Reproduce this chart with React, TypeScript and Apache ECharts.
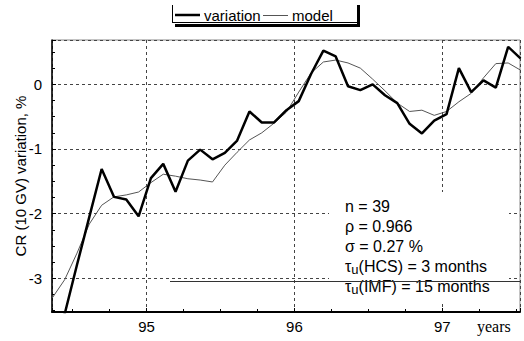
import React, { useEffect, useRef } from 'react';
import * as echarts from 'echarts';

// first monthly sample, as a decimal year (two-digit years on the axis)
const startYear = 94.3625;
const xTickLabels = [95, 96, 97];
const yTickLabels = [0, -1, -2, -3];
const seriesNames = ['variation', 'model'];

// monthly CR (10 GV) variation, %
const variation = [
  -3.9, -3.55, -2.79, -2.05, -1.31, -1.74, -1.78, -2.04, -1.45, -1.23,
  -1.66, -1.18, -1.01, -1.16, -1.06, -0.87, -0.42, -0.59, -0.59, -0.4,
  -0.26, 0.16, 0.52, 0.43, -0.03, -0.09, 0.0, -0.17, -0.29, -0.61,
  -0.76, -0.56, -0.46, 0.25, -0.12, 0.06, -0.05, 0.58, 0.4,
];

// model curve
const model = [
  -3.3, -3.02, -2.61, -2.16, -1.87, -1.74, -1.71, -1.665, -1.52, -1.39,
  -1.42, -1.46, -1.48, -1.51, -1.25, -1.05, -0.86, -0.75, -0.6, -0.43,
  -0.12, 0.175, 0.345, 0.375, 0.33, 0.25, 0.08, -0.1, -0.29, -0.42,
  -0.4, -0.48, -0.42, -0.27, -0.14, 0.1, 0.32, 0.33, 0.22,
];

const statN = 'n = 39';
const statRho = 'ρ = 0.966';
const statSigma = 'σ = 0.27 %';
const statHcs = '(HCS) = 3 months';
const statImf = '(IMF) = 15 months';

const FONT = "'Liberation Sans', Arial, sans-serif";
const VAR_COLOR = '#000';
const MODEL_COLOR = '#555';

export default function App() {
  const ref = useRef<HTMLDivElement>(null);

  useEffect(() => {
    if (!ref.current) return;
    const chart = echarts.init(ref.current, undefined, { renderer: 'svg' });
    const toPts = (arr: number[]) => arr.map((v, i) => [startYear + i / 12, v]);
    const isTick = (v: number, list: number[]) => list.some((t) => Math.abs(t - v) < 1e-9);

    const legendText = { font: `15px ${FONT}`, fill: '#000' };
    const statText = { font: `16px ${FONT}`, fill: '#000' };
    const rich = {
      a: { fontSize: 16, fontFamily: FONT, color: '#000', lineHeight: 20 },
      s: { fontSize: 13, fontFamily: FONT, color: '#000', lineHeight: 13, verticalAlign: 'bottom' },
    };

    chart.setOption({
      animation: false,
      backgroundColor: '#fff',
      grid: {
        left: 52, right: 4, top: 40, bottom: 29,
        outerBoundsMode: 'none', containLabel: false,
        show: true, borderColor: '#888', borderWidth: 1, backgroundColor: 'transparent',
      },
      xAxis: {
        type: 'value', min: 94.36, max: 97.526, splitNumber: 3,
        axisLine: { onZero: false, lineStyle: { color: '#000', width: 2 } },
        axisTick: { inside: true, length: 4, lineStyle: { color: '#000' } },
        minorTick: { show: true, splitNumber: 4, length: 3, lineStyle: { color: '#000' } },
        axisLabel: {
          formatter: (v: number) => (isTick(v, xTickLabels) ? String(Math.round(v)) : ''),
          color: '#000', fontSize: 15, fontFamily: FONT, margin: 7,
        },
        splitLine: { show: true, lineStyle: { color: '#444', type: [3, 3], width: 1 } },
      },
      yAxis: {
        type: 'value', min: -3.52, max: 0.685, splitNumber: 4,
        name: 'CR (10 GV) variation, %', nameLocation: 'middle', nameGap: 24,
        nameMoveOverlap: false,
        nameTextStyle: { fontSize: 15, color: '#000', fontFamily: FONT },
        axisLine: { show: true, onZero: false, lineStyle: { color: '#000', width: 1.5 } },
        axisTick: { show: true, inside: true, length: 4, lineStyle: { color: '#000' } },
        minorTick: { show: true, splitNumber: 4, length: 3, lineStyle: { color: '#000' } },
        axisLabel: {
          formatter: (v: number) => (isTick(v, yTickLabels) ? String(Math.round(v)) : ''),
          color: '#000', fontSize: 15, fontFamily: FONT, margin: 10,
        },
        splitLine: { show: true, lineStyle: { color: '#444', type: [3, 3], width: 1 } },
      },
      series: [
        {
          name: seriesNames[0], type: 'line', data: toPts(variation), symbol: 'none', z: 4,
          lineStyle: { color: VAR_COLOR, width: 2.5 }, itemStyle: { color: VAR_COLOR },
        },
        {
          name: seriesNames[1], type: 'line', data: toPts(model), symbol: 'none', z: 3,
          lineStyle: { color: MODEL_COLOR, width: 1 }, itemStyle: { color: MODEL_COLOR },
        },
      ],
      graphic: [
        // legend frame
        { type: 'line', z: 10, shape: { x1: 172.5, y1: 5, x2: 172.5, y2: 23 }, style: { stroke: '#000', lineWidth: 1 } },
        { type: 'line', z: 10, shape: { x1: 172, y1: 22.5, x2: 357, y2: 22.5 }, style: { stroke: '#000', lineWidth: 1 } },
        { type: 'rect', z: 10, shape: { x: 175, y: 24, width: 185, height: 3 }, style: { fill: '#000' } },
        { type: 'rect', z: 10, shape: { x: 357, y: 5, width: 3, height: 22 }, style: { fill: '#000' } },
        // legend items
        { type: 'line', z: 10, shape: { x1: 175, y1: 15, x2: 200, y2: 15 }, style: { stroke: VAR_COLOR, lineWidth: 2.5 } },
        { type: 'text', z: 10, x: 204, y: 15, style: { ...legendText, text: seriesNames[0], verticalAlign: 'middle' } },
        { type: 'line', z: 10, shape: { x1: 263, y1: 15.5, x2: 288, y2: 15.5 }, style: { stroke: MODEL_COLOR, lineWidth: 1 } },
        { type: 'text', z: 10, x: 292, y: 15, style: { ...legendText, text: seriesNames[1], verticalAlign: 'middle' } },
        // stats box
        { type: 'rect', z: 1, shape: { x: 329, y: 192, width: 180, height: 110 }, style: { fill: '#fff' } },
        { type: 'text', z: 5, x: 345, y: 206.7, style: { ...statText, text: statN, verticalAlign: 'middle' } },
        { type: 'text', z: 5, x: 345, y: 226.7, style: { ...statText, text: statRho, verticalAlign: 'middle' } },
        { type: 'text', z: 5, x: 345, y: 246.7, style: { ...statText, text: statSigma, verticalAlign: 'middle' } },
        { type: 'text', z: 5, x: 345, y: 256, style: { text: `{a|τ}{s|u}{a|${statHcs}}`, rich, verticalAlign: 'top' } },
        { type: 'text', z: 5, x: 345, y: 276, style: { text: `{a|τ}{s|u}{a|${statImf}}`, rich, verticalAlign: 'top' } },
        { type: 'line', z: 6, shape: { x1: 170, y1: 281.5, x2: 520, y2: 281.5 }, style: { stroke: '#333', lineWidth: 1 } },
        // x axis unit
        { type: 'text', z: 5, x: 477, y: 326, style: { text: 'years', font: "16px 'Liberation Serif', 'Times New Roman', serif", fill: '#000', verticalAlign: 'middle' } },
      ],
    });
    return () => chart.dispose();
  }, []);

  return (
    <div
      ref={ref}
      style={{ position: 'fixed', left: 0, top: 0, width: 524, height: 341, background: '#fff' }}
    />
  );
}
